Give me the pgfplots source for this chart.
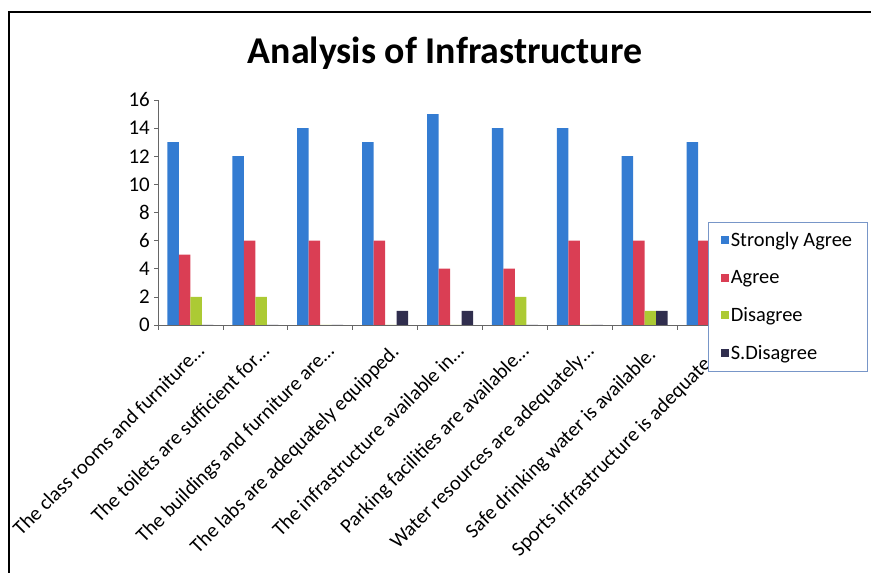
\documentclass[border=0pt]{standalone}
\usepackage{pgfplots}
\pgfplotsset{compat=1.18}
\usepackage{fontspec}
\setmainfont{Carlito}
\definecolor{cSA}{RGB}{52,124,210}
\definecolor{cA}{RGB}{218,62,84}
\definecolor{cD}{RGB}{172,202,52}
\definecolor{cSD}{RGB}{48,46,78}
\definecolor{cLeg}{RGB}{120,150,200}
\begin{document}
\begin{tikzpicture}[x=1bp,y=1bp]
\path[use as bounding box] (0,0) rectangle (871,573);
\draw[line width=2.5bp] (9,0) -- (9,562);
\draw[line width=1.5bp] (7.75,561) -- (871,561);
\node[font=\bfseries\fontsize{38}{44}\selectfont] at (445,520) {Analysis of Infrastructure};
\begin{axis}[
  at={(158bp,248bp)}, anchor=south west,
  scale only axis, width=584bp, height=225bp,
  xmin=-0.5, xmax=8.5, ymin=0, ymax=16,
  enlarge x limits=false, enlarge y limits=false,
  ybar=0pt, bar width=11.5bp,
  axis x line*=bottom, axis y line*=left,
  axis line style={gray!80!black, line width=0.6pt},
  ytick={0,2,...,16},
  xtick={0,...,8},
  xticklabels={The class rooms and furniture…,The toilets are sufficient for…,The buildings and furniture are…,The labs are adequately equipped.,The infrastructure available in…,Parking facilities are available…,Water resources are adequately…,Safe drinking water is available.\hspace*{4bp},Sports infrastructure is adequate.\hspace*{13bp}},
  minor xtick={-0.5,0.5,...,8.5},
  major x tick style={draw=none},
  minor x tick style={gray!80!black, line width=0.6pt},
  y tick style={gray!80!black, line width=0.6pt},
  tick align=outside, major tick length=4bp, minor tick length=5bp,
  x tick label style={rotate=45, anchor=north east, font=\fontsize{20.5}{22}\selectfont, inner sep=1bp, xshift=-5bp, yshift=-12bp},
  y tick label style={font=\fontsize{21}{23}\selectfont, inner xsep=4bp},
  /pgf/number format/assume math mode=true,
  legend style={at={(rel axis cs:0.9418,0.4578)}, anchor=north west, draw=cLeg, line width=0.6pt, fill=white,
    font=\fontsize{20.5}{22}\selectfont, row sep=18.5bp, inner xsep=13bp, inner ysep=8bp,
    nodes={inner xsep=2bp}},
  legend cell align=left,
  legend image code/.code={\fill[#1] (0bp,-4bp) rectangle (7.5bp,4bp);},
]
\addplot[fill=cSA, draw=none] coordinates {(0,13) (1,12) (2,14) (3,13) (4,15) (5,14) (6,14) (7,12) (8,13)};
\addplot[fill=cA, draw=none] coordinates {(0,5) (1,6) (2,6) (3,6) (4,4) (5,4) (6,6) (7,6) (8,6)};
\addplot[fill=cD, draw=none] coordinates {(0,2) (1,2) (2,0) (3,0) (4,0) (5,2) (6,0) (7,1) (8,1)};
\addplot[fill=cSD, draw=none] coordinates {(0,0) (1,0) (2,0) (3,1) (4,1) (5,0) (6,0) (7,1) (8,0)};
\legend{Strongly Agree,Agree,Disagree,S.Disagree}
\end{axis}
\end{tikzpicture}
\end{document}
